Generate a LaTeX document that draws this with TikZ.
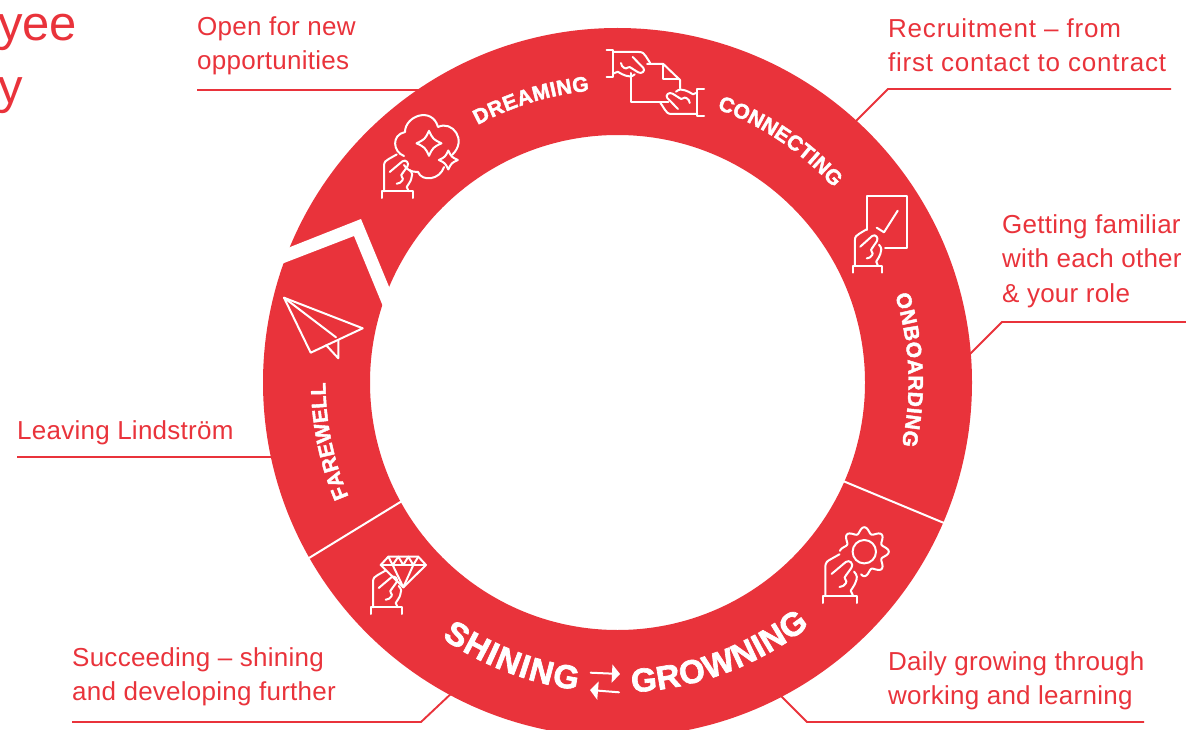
\documentclass[tikz,border=0pt]{standalone}
\usepackage{fontspec}
\setmainfont{Liberation Sans}[LetterSpace=1]
\newfontfamily\widefont{Liberation Sans}[LetterSpace=3]
\newfontfamily\titlefont{Liberation Sans}
\newfontfamily\ringfont[BoldFeatures={FakeBold=2}]{Liberation Sans}
\usetikzlibrary{decorations.text,arrows.meta}
\definecolor{ringred}{HTML}{E9333B}
\tikzset{
  leader/.style={draw=ringred,line width=1.9},
  sidetext/.style={text=ringred,anchor=west,align=left,inner sep=0,font=\fontsize{26}{34.5}\selectfont},
  titletext/.style={text=ringred,anchor=base west,inner sep=0,font=\titlefont\fontsize{49}{49}\selectfont},
  iconline/.style={draw=white,line width=2,line join=round,line cap=round},
  splitline/.style={draw=white,line width=2},
  ringsmall/.style={decoration={text along path,text={|\ringfont\bfseries\fontsize{21}{21}\selectfont|#1},text color=white,text align={fit to path}},decorate},
  ringlarge/.style={decoration={text along path,text={|\ringfont\bfseries\fontsize{33}{33}\selectfont|#1},text color=white,text align={fit to path}},decorate},
  handicon/.pic={
    \draw[iconline] (0,0) -- (0,-6.7) -- (31,-6.7) -- (31,0);
    \draw[iconline] (2.3,-6.7) -- (2.3,-32) .. controls (2.3,-36) and (4,-37.5) .. (7,-39) -- (15,-43.5);
    \draw[iconline] (8,-26) -- (20.7,-36.7) .. controls (24,-39) and (28,-35) .. (25.7,-31.5) -- (21,-25);
    \draw[iconline] (21,-25) .. controls (17,-22) and (23,-20) .. (20.7,-17.7) .. controls (20,-15.5) and (17,-14.5) .. (15,-14.3);
    \draw[iconline] (27,-6.7) -- (25,-11) .. controls (27,-14) and (29,-17) .. (29.5,-19) .. controls (31,-22) and (31,-25) .. (28,-28);
  },
  sparkle/.pic={
    \draw[iconline] (0,-1) .. controls (0.3,-0.35) and (0.35,-0.3) .. (1,0) .. controls (0.35,0.3) and (0.3,0.35) .. (0,1) .. controls (-0.3,0.35) and (-0.35,0.3) .. (-1,0) .. controls (-0.35,-0.3) and (-0.3,-0.35) .. (0,-1) -- cycle;
  }
}
\begin{document}
\begin{tikzpicture}[x=1pt,y=-1pt]
\useasboundingbox (0,0) rectangle (1186,730);
\coordinate (hub) at (617.5,382.5);

%leader lines
\coordinate (openA) at (197,90);
\coordinate (openB) at (425,90);
\draw[leader] (openA) -- (openB);
\coordinate (recA) at (1171,89);
\coordinate (recB) at (888,89);
\coordinate (recC) at (850,127);
\draw[leader] (recA) -- (recB) -- (recC);
\coordinate (famA) at (1186,322);
\coordinate (famB) at (1002,322);
\coordinate (famC) at (966,358);
\draw[leader] (famA) -- (famB) -- (famC);
\coordinate (leaveA) at (17,457);
\coordinate (leaveB) at (278,457);
\draw[leader] (leaveA) -- (leaveB);
\coordinate (sucA) at (72,722);
\coordinate (sucB) at (421,722);
\coordinate (sucC) at (455,690);
\draw[leader] (sucA) -- (sucB) -- (sucC);
\coordinate (dayA) at (1144,722);
\coordinate (dayB) at (807,722);
\coordinate (dayC) at (777,692);
\draw[leader] (dayA) -- (dayB) -- (dayC);

%main ring
\fill[ringred,even odd rule] (hub) circle (354.5) (hub) circle (247.5);
\fill[white] (270,268.4) -- (354,236) -- (389,321) -- (397,306) -- (361,219) -- (275,253) -- cycle;
\draw[splitline] (843,481) -- (944,523);
\draw[splitline] (402,501) -- (309,558);

%ring words
\path[ringsmall=DREAMING] (hub) ++(241.5:293) arc (241.5:264.5:293);
\path[ringsmall=CONNECTING] (hub) ++(290:291) arc (290:318:291);
\path[ringsmall=ONBOARDING] (hub) ++(342.5:291) arc (342.5:372.5:291);
\path[ringsmall=FAREWELL] (hub) ++(157:292) arc (157:180:292);
\path[ringlarge=SHINING] (hub) ++(124.5:310) arc (124.5:97.5:310);
\path[ringlarge=GROWNING] (hub) ++(87.3:310) arc (87.3:51.7:310);
\draw[iconline,-{Triangle[length=8,width=18]},fill=white] (590.7,672.7) -- (620,674);
\draw[iconline,-{Triangle[length=8,width=18]},fill=white] (619,692.3) -- (590,690);

%side labels
\node[titletext] (titletop) at (-2,41) {yee};
\node[titletext] (titlelow) at (-2,104) {y};
\node[sidetext] (open) at (197,46) {Open for new\\opportunities};
\node[sidetext,font=\widefont\fontsize{26}{34.5}\selectfont] (recruit) at (888,45) {Recruitment – from\\first contact to contract};
\node[sidetext] (familiar) at (1002,261) {Getting familiar\\with each other\\\& your role};
\node[sidetext] (leaving) at (17,433) {Leaving Lindström};
\node[sidetext] (succeed) at (72,677) {Succeeding – shining\\and developing further};
\node[sidetext] (daily) at (888,681) {Daily growing through\\working and learning};

%dreaming icon
\pic at (381.7,198) {handicon};
\draw[iconline] (404,156) .. controls (393,152) and (391,135) .. (405,132) .. controls (405,116) and (432,106) .. (438,127) .. controls (452,120) and (468,140) .. (452,155);
\draw[iconline] (444,167) .. controls (440,180) and (422,182) .. (418,172) .. controls (411,172) and (407,170) .. (404,165);
\pic[scale=12.5] at (429,143.3) {sparkle};
\pic[scale=9.5] at (448.3,160) {sparkle};

%connecting icon
\pic[rotate=-90,xscale=0.87] at (606.7,50) {handicon};
\pic[rotate=90,xscale=0.87] at (704,116) {handicon};
\draw[iconline] (647,64) -- (663.3,64) -- (680,80) -- (680,88.3);
\draw[iconline] (630.7,73) -- (630.7,101.7) -- (668.3,101.7);
\draw[iconline] (663.3,64) -- (663.3,79.3) -- (679.3,79.3);

%onboarding icon
\pic[xscale=0.94] at (852.7,272.7) {handicon};
\draw[iconline] (867.3,230) -- (867.3,196) -- (907.3,196) -- (907.3,248.3) -- (885,248.3);
\draw[iconline] (876.7,227.7) -- (884,232.3) -- (897.7,210.7);

%growing icon
\pic[scale=1.12] at (822.7,603) {handicon};
\draw[iconline,shift={(864.3,551.7)}] plot[smooth,domain=-178:98,samples=80] (\x:{21.5+3*cos(8*\x)});
\draw[iconline] (864.3,551.7) circle (11.7);

%shining icon
\pic at (370.7,614) {handicon};
\draw[iconline] (388.3,556.7) -- (380.7,565) -- (403.3,587.3) -- (426,565) -- (418.3,556.7) -- cycle;
\draw[iconline] (380.7,565) -- (426,565);
\draw[iconline] (388.3,556.7) -- (392.7,565) -- (398.3,556.7) -- (403.3,565) -- (408.3,556.7) -- (413.3,565) -- (418.3,556.7);
\draw[iconline] (392.7,565) -- (403.3,587.3) -- (413.3,565);

%farewell icon
\draw[iconline] (284,297.7) -- (310.7,352.7) -- (362.7,328.3) -- cycle;
\draw[iconline] (284,297.7) -- (336,337.3);
\draw[iconline] (326,345) -- (338.3,358.3) -- (338.3,340);
\end{tikzpicture}
\end{document}
